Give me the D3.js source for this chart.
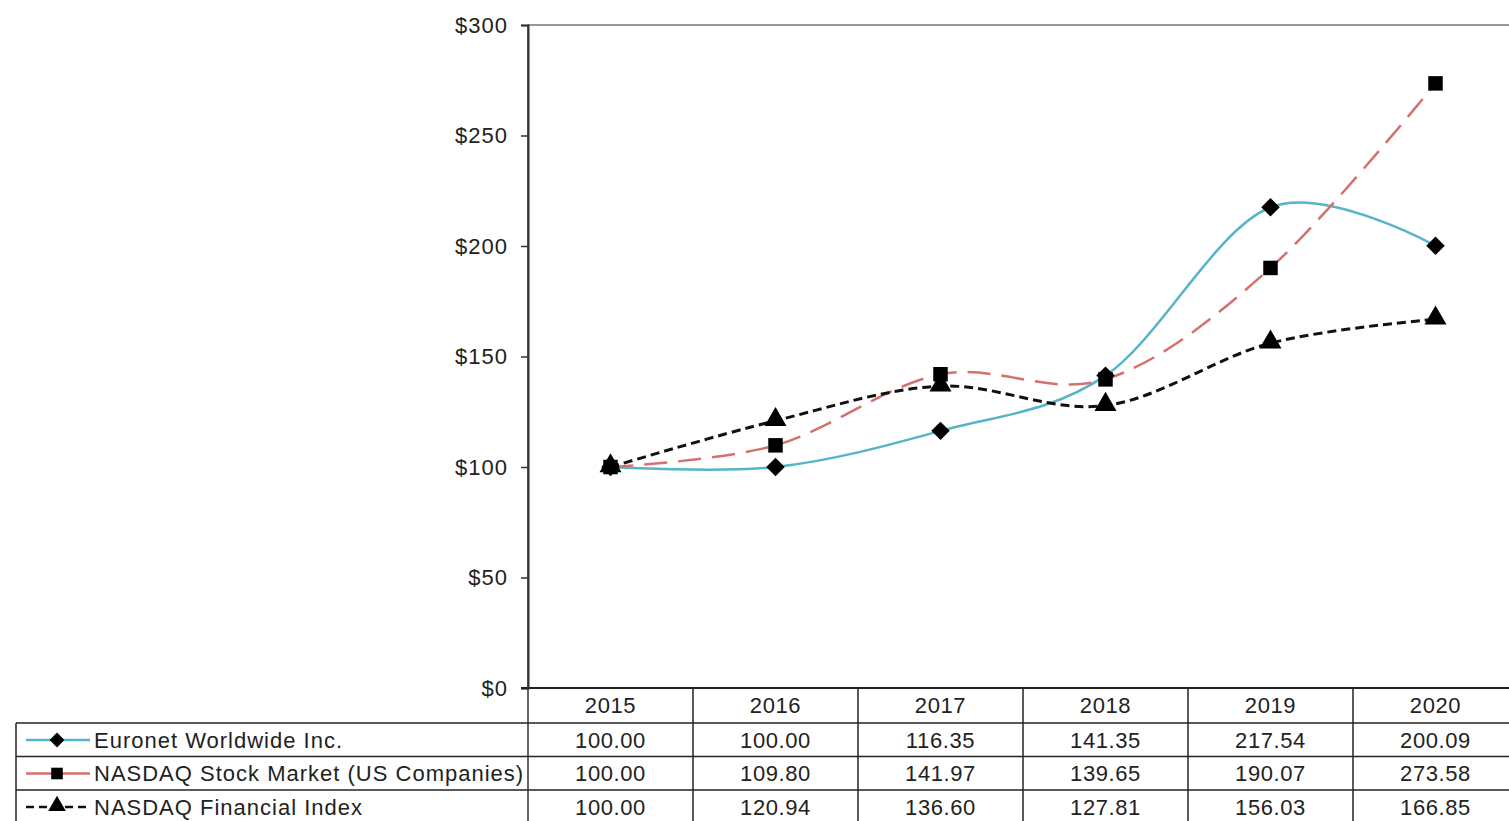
<!DOCTYPE html>
<html>
<head>
<meta charset="utf-8">
<script src="https://cdn.jsdelivr.net/npm/d3@7"></script>
<style>
  body { margin: 0; background: #fff; }
  text { font-family: "Liberation Sans", Arial, sans-serif; fill: #222; }
</style>
</head>
<body>
<div id="chart"></div>
<script>
// Cumulative total return data
let years = ["2015", "2016", "2017", "2018", "2019", "2020"];
let euronet = [100.00, 100.00, 116.35, 141.35, 217.54, 200.09];
let nasdaqMarket = [100.00, 109.80, 141.97, 139.65, 190.07, 273.58];
let nasdaqFinancial = [100.00, 120.94, 136.60, 127.81, 156.03, 166.85];
let seriesNames = ["Euronet Worldwide Inc.", "NASDAQ Stock Market (US Companies)", "NASDAQ Financial Index"];
let yTicks = [0, 50, 100, 150, 200, 250, 300];

let width = 1509, height = 821;
let plotLeft = 528, plotRight = 1518, plotTop = 25, plotBottom = 688;
let tableLeft = 16, rowH = 34;

let series = [
  { name: seriesNames[0], values: euronet, color: "#55b4c8", dash: null, legendDash: null, width: 2.5, symbol: "diamond" },
  { name: seriesNames[1], values: nasdaqMarket, color: "#d4716d", dash: "23,11", legendDash: null, width: 2.5, symbol: "square" },
  { name: seriesNames[2], values: nasdaqFinancial, color: "#111", dash: "9,5", legendDash: "8,5", width: 3, symbol: "triangle" }
];

let xScale = d3.scalePoint().domain(years).range([plotLeft, plotRight]).padding(0.5);
let yScale = d3.scaleLinear().domain([0, 300]).range([plotBottom, plotTop]);
let step = xScale.step();

let svg = d3.select("#chart").append("svg")
  .attr("width", width)
  .attr("height", height);

// top border of plot area
svg.append("line")
  .attr("x1", plotLeft).attr("x2", width)
  .attr("y1", plotTop).attr("y2", plotTop)
  .attr("stroke", "#999").attr("stroke-width", 2);

// y axis
let yAxis = d3.axisLeft(yScale)
  .tickValues(yTicks)
  .tickSize(7)
  .tickPadding(13)
  .tickFormat(d => "$" + d);

let gy = svg.append("g")
  .attr("transform", "translate(" + plotLeft + ",0)")
  .call(yAxis);
gy.select(".domain").attr("stroke", "#333").attr("stroke-width", 2);
gy.selectAll(".tick line").attr("stroke", "#333").attr("stroke-width", 1.5);
gy.selectAll(".tick text")
  .style("font-family", "'Liberation Sans', Arial, sans-serif")
  .style("font-size", "22px")
  .style("letter-spacing", "1px")
  .attr("fill", "#333");

// symbols
function symbolPath(kind) {
  if (kind === "diamond") return d3.symbol(d3.symbolSquare, 170)();
  if (kind === "square") return d3.symbol(d3.symbolSquare, 210)();
  return d3.symbol(d3.symbolTriangle, 210)();
}
function symbolTransform(kind, x, y) {
  if (kind === "diamond") return "translate(" + x + "," + y + ") rotate(45)";
  if (kind === "triangle") return "translate(" + x + "," + (y - 1) + ")";
  return "translate(" + x + "," + y + ")";
}

let line = d3.line()
  .x((d, i) => xScale(years[i]))
  .y(d => yScale(d))
  .curve(d3.curveCardinal.tension(0));

series.forEach(function(s) {
  svg.append("path")
    .datum(s.values)
    .attr("d", line)
    .attr("fill", "none")
    .attr("stroke", s.color)
    .attr("stroke-width", s.width)
    .attr("stroke-dasharray", s.dash);
});

series.forEach(function(s) {
  svg.append("g")
    .selectAll("path")
    .data(s.values)
    .enter()
    .append("path")
    .attr("d", symbolPath(s.symbol))
    .attr("transform", (d, i) => symbolTransform(s.symbol, xScale(years[i]), yScale(d)))
    .attr("fill", "#000");
});

// data table
let table = svg.append("g");
let gridColor = "#222";
let headerTop = plotBottom, row1Top = plotBottom + rowH + 1;

// horizontal lines
table.append("line")
  .attr("x1", plotLeft - 7).attr("x2", width)
  .attr("y1", headerTop).attr("y2", headerTop)
  .attr("stroke", gridColor).attr("stroke-width", 2);
for (let r = 0; r < series.length; r++) {
  table.append("line")
    .attr("x1", tableLeft).attr("x2", width)
    .attr("y1", row1Top + r * (rowH - 0.5)).attr("y2", row1Top + r * (rowH - 0.5))
    .attr("stroke", gridColor).attr("stroke-width", 1.5);
}
// vertical lines
table.append("line")
  .attr("x1", tableLeft).attr("x2", tableLeft)
  .attr("y1", row1Top).attr("y2", height)
  .attr("stroke", gridColor).attr("stroke-width", 1.5);
years.forEach(function(y, i) {
  let x = xScale(y) - step / 2;
  table.append("line")
    .attr("x1", x).attr("x2", x)
    .attr("y1", i === 0 ? plotTop : headerTop).attr("y2", height)
    .attr("stroke", i === 0 ? "#333" : gridColor).attr("stroke-width", 1.5);
});

// header
table.selectAll("text.year")
  .data(years)
  .enter()
  .append("text")
  .attr("class", "year")
  .attr("x", d => xScale(d))
  .attr("y", headerTop + rowH / 2)
  .attr("dy", "0.36em")
  .attr("text-anchor", "middle")
  .style("font-size", "22px")
  .style("letter-spacing", "0.6px")
  .text(d => d);

// rows
series.forEach(function(s, r) {
  let cy = row1Top + r * (rowH - 0.5) + rowH / 2;
  // legend sample
  table.append("line")
    .attr("x1", 26).attr("x2", 90)
    .attr("y1", cy).attr("y2", cy)
    .attr("stroke", s.color)
    .attr("stroke-width", 2.5)
    .attr("stroke-dasharray", s.legendDash);
  table.append("path")
    .attr("d", symbolPath(s.symbol))
    .attr("transform", symbolTransform(s.symbol, 57, cy) + " scale(0.8)")
    .attr("fill", "#000");
  table.append("text")
    .attr("x", 94)
    .attr("y", cy)
    .attr("dy", "0.36em")
    .style("font-size", "22px")
    .style("letter-spacing", "1px")
    .text(s.name);
  table.selectAll(null)
    .data(s.values)
    .enter()
    .append("text")
    .attr("x", (d, i) => xScale(years[i]))
    .attr("y", cy)
    .attr("dy", "0.36em")
    .attr("text-anchor", "middle")
    .style("font-size", "22px")
    .style("letter-spacing", "0.6px")
    .text(d => d.toFixed(2));
});
</script>
</body>
</html>
